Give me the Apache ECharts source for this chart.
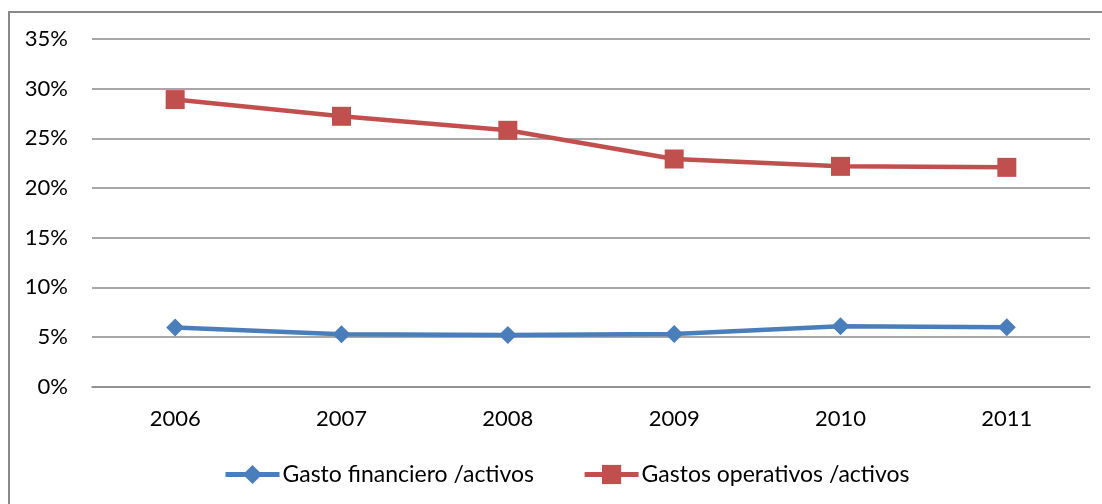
<!DOCTYPE html>
<html>
<head>
<meta charset="utf-8">
<script src="https://cdn.jsdelivr.net/npm/echarts@6/dist/echarts.min.js"></script>
<style>
  html, body { margin: 0; padding: 0; background: #fff; }
  #chart { width: 1102px; height: 504px; }
</style>
</head>
<body>
<div id="chart"></div>
<script>
// Years on the horizontal axis
const years = ['2006', '2007', '2008', '2009', '2010', '2011'];
// Ratios to total assets (fractions)
const gastoFinanciero = [0.0595, 0.0528, 0.0521, 0.0531, 0.0609, 0.0599];
const gastosOperativos = [0.2890, 0.2722, 0.2581, 0.2292, 0.2218, 0.2208];
const seriesNames = ['Gasto financiero /activos', 'Gastos operativos /activos'];

const FONT = 'Lato, Carlito, "Liberation Sans", sans-serif';
const BLUE = '#4a7ebb';
const RED = '#c0504d';
const chart = echarts.init(document.getElementById('chart'));

chart.setOption({
  backgroundColor: '#ffffff',
  animation: false,
  graphic: [{
    type: 'rect',
    shape: { x: 9, y: 12, width: 1100, height: 500 },
    style: { fill: 'none', stroke: '#898989', lineWidth: 2 },
    silent: true
  }],
  grid: { left: 92, right: 12, top: 39, bottom: 117.3 },
  legend: {
    data: seriesNames,
    left: 218,
    top: 458,
    itemWidth: 54,
    itemHeight: 24,
    itemGap: 48,
    lineStyle: { width: 5 },
    textStyle: { fontFamily: FONT, fontSize: 23, color: '#000', padding: [0, 0, 0, -2] }
  },
  xAxis: {
    type: 'category',
    data: years,
    boundaryGap: true,
    axisLine: { lineStyle: { color: '#8a8a8a', width: 1.5 } },
    axisTick: { show: false },
    axisLabel: { fontFamily: FONT, fontSize: 22, color: '#000', margin: 21 }
  },
  yAxis: {
    type: 'value',
    min: 0,
    max: 0.35,
    interval: 0.05,
    axisLine: { show: false },
    axisTick: { show: false },
    splitLine: { lineStyle: { color: '#8a8a8a', width: 1.5 } },
    axisLabel: {
      fontFamily: FONT, fontSize: 22, color: '#000', margin: 24,
      formatter: v => Math.round(v * 100) + '%'
    }
  },
  series: [
    {
      name: seriesNames[0],
      type: 'line',
      data: gastoFinanciero,
      symbol: 'diamond',
      symbolSize: 18,
      color: BLUE,
      lineStyle: { width: 4.5, color: BLUE },
      itemStyle: { color: BLUE }
    },
    {
      name: seriesNames[1],
      type: 'line',
      data: gastosOperativos,
      symbol: 'rect',
      symbolSize: 19,
      color: RED,
      lineStyle: { width: 4.5, color: RED },
      itemStyle: { color: RED }
    }
  ]
});
</script>
</body>
</html>
